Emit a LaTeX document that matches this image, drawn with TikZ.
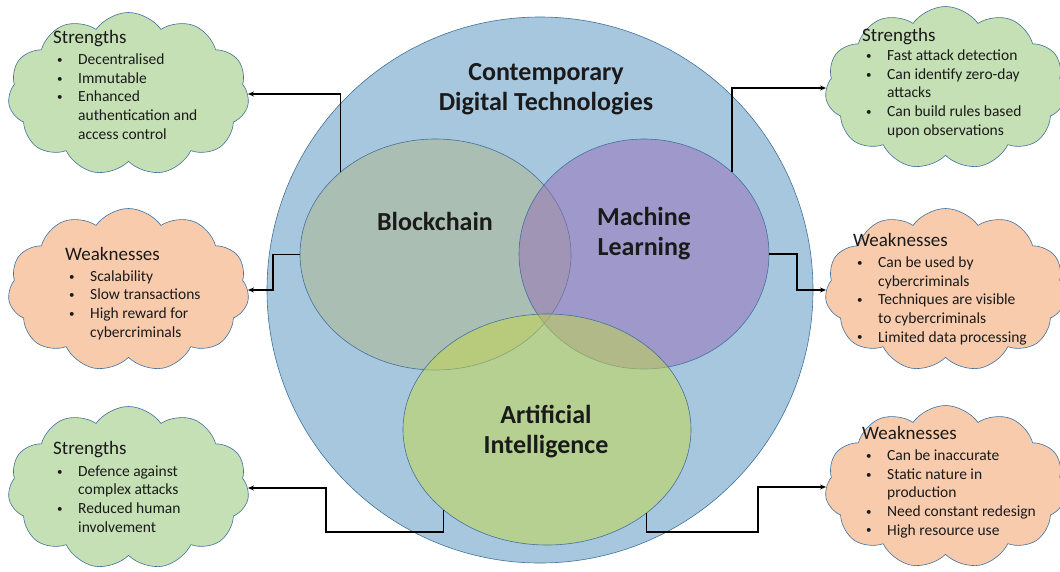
\documentclass[tikz,border=0pt]{standalone}
\usepackage{fontspec}
\setmainfont{Carlito}
\usetikzlibrary{shapes.symbols,shapes.geometric,arrows.meta}
\definecolor{bigblue}{HTML}{A7C7DE}
\definecolor{edgeblue}{HTML}{41719C}
\definecolor{bcfill}{HTML}{AFB78A}
\definecolor{mlfill}{HTML}{996DBA}
\definecolor{aifill}{HTML}{C5D946}
\definecolor{cgreen}{HTML}{C5E0B4}
\definecolor{corange}{HTML}{F8CBAD}
\definecolor{ink}{HTML}{1A1A1A}
\newcommand\headfont{\fontsize{19}{21}\selectfont}
\newcommand\bul[1]{\hspace*{4pt}\makebox[21pt][l]{\raisebox{1.2pt}{\fontsize{11}{11}\selectfont •}}#1}
\newcommand\cont[1]{\hspace*{25pt}#1}
\tikzset{
  venn/.style={ellipse, draw=edgeblue, line width=0.6pt, fill opacity=0.5, inner sep=0},
  puff/.style={cloud, cloud puffs=11, cloud puff arc=110, aspect=1.5, draw=edgeblue,
    line width=0.6pt, inner sep=0, minimum width=241pt, minimum height=163pt},
  biglabel/.style={font=\fontsize{26}{30}\selectfont\bfseries, text=ink, align=center, anchor=base, inner sep=0},
  listtext/.style={font=\fontsize{15.5}{18.6}\selectfont, text=ink, align=left, anchor=base west, inner sep=0},
  link/.style={line width=1.3pt, -{Stealth[length=6pt,width=5pt]}},
}
\begin{document}
\begin{tikzpicture}[x=1pt,y=-1pt]
\useasboundingbox (0,0) rectangle (1060,571);
% big circle and Venn ellipses
\node[circle, draw=edgeblue, fill=bigblue, line width=0.6pt, minimum size=546pt, inner sep=0] (dt) at (540,290) {};
\node[venn, fill=bcfill, minimum width=271pt, minimum height=231pt] (bc) at (435.5,254.5) {};
\node[venn, fill=mlfill, minimum width=250pt, minimum height=230pt] (ml) at (644,254) {};
\node[venn, fill=aifill, minimum width=288pt, minimum height=231pt] (ai) at (547,429.5) {};
% clouds
\node[puff, fill=cgreen] (c1) at (128.5,94) {};
\node[puff, fill=corange] (c2) at (128.5,290) {};
\node[puff, fill=cgreen] (c3) at (128.5,488) {};
\node[puff, fill=cgreen] (c4) at (945.5,88) {};
\node[puff, fill=corange] (c5) at (945.5,290) {};
\node[puff, fill=corange] (c6) at (945.5,487) {};
% connectors
\coordinate (j1) at (273,272);
\coordinate (j2) at (797,272);
\coordinate (k1) at (326,532);
\coordinate (k2) at (758,532);
\draw[link] (bc.139.4) |- (c1.east);
\draw[link] (bc.west) -| (j1) |- (c2.east);
\draw[link] (ml.43.5) |- (c4.west);
\draw[link] (ml.east) -| (j2) |- (c5.west);
\draw[link] (ai.218.6) |- (k1) |- (c3.east);
\draw[link] (ai.320.3) |- (k2) |- (c6.west);
% labels (anchor base = baseline of the last line)
\node[biglabel] (title) at (546,110) {\fontsize{26}{28}\selectfont Contemporary\\Digital Technologies};
\node[biglabel] (bcl) at (435,230) {Blockchain};
\node[biglabel] (mll) at (644,255) {\fontsize{26}{32}\selectfont Machine\\Learning};
\node[biglabel] (ail) at (546,453) {Artificial\\Intelligence};
% cloud texts
\node[listtext] (t1) at (53,139) {{\headfont Strengths}\\[2.4pt]\bul{Decentralised}\\\bul{Immutable}\\\bul{Enhanced}\\\cont{authentication and}\\\cont{access control}};
\node[listtext] (t2) at (65,337) {{\headfont Weaknesses}\\[2.4pt]\bul{Scalability}\\\bul{Slow transactions}\\\bul{High reward for}\\\cont{cybercriminals}};
\node[listtext] (t3) at (53,532) {{\headfont Strengths}\\[3pt]\bul{Defence against}\\\cont{complex attacks}\\\bul{Reduced human}\\\cont{involvement}};
\node[listtext] (t4) at (862,135) {{\headfont Strengths}\\[0.6pt]\bul{Fast attack detection}\\\bul{Can identify zero-day}\\\cont{attacks}\\\bul{Can build rules based}\\\cont{upon observations}};
\node[listtext] (t5) at (853,342) {{\headfont Weaknesses}\\[2.4pt]\bul{Can be used by}\\\cont{cybercriminals}\\\bul{Techniques are visible}\\\cont{to cybercriminals}\\\bul{Limited data processing}};
\node[listtext] (t6) at (862,535) {{\headfont Weaknesses}\\[3pt]\bul{Can be inaccurate}\\\bul{Static nature in}\\\cont{production}\\\bul{Need constant redesign}\\\bul{High resource use}};
\end{tikzpicture}
\end{document}
